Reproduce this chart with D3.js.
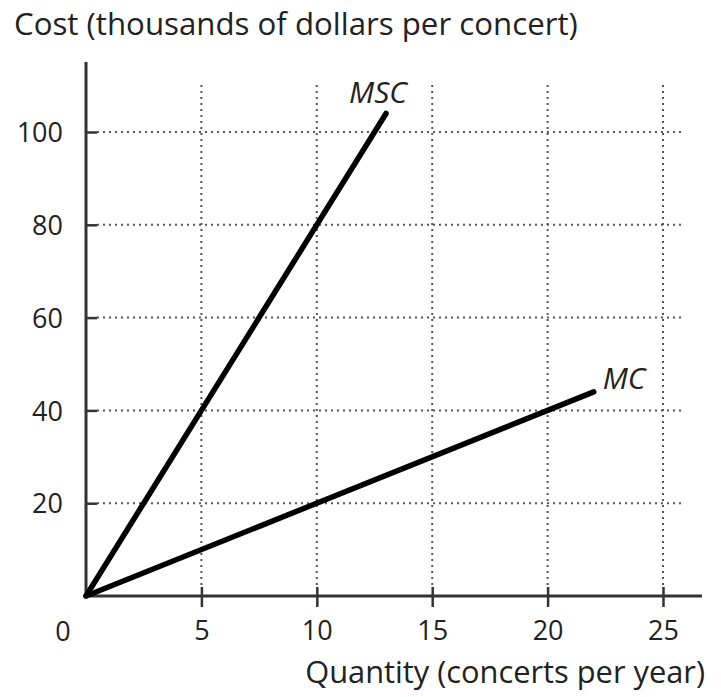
<!DOCTYPE html>
<html><head><meta charset="utf-8">
<script src="https://cdn.jsdelivr.net/npm/d3@7"></script>
<style>body{margin:0;background:#fff}svg{display:block}</style>
</head><body>
<script>
const xTicks = [5, 10, 15, 20, 25];
const yTicks = [20, 40, 60, 80, 100];
const mscPoints = [[0, 0], [13, 104]];
const mcPoints = [[0, 0], [22, 44]];
const curveLabels = [
  {text: "MSC", x: 13, y: 104},
  {text: "MC", x: 22, y: 44}
];
const yTitle = "Cost (thousands of dollars per concert)";
const xTitle = "Quantity (concerts per year)";

const W = 721, H = 697;
const font = "'Open Sans', Lato, sans-serif";
const ink = "#222";
const svg = d3.select("body").append("svg").attr("width", W).attr("height", H);

const x = d3.scaleLinear().domain([0, 25]).range([86, 663]);
const y = d3.scaleLinear().domain([0, 100]).range([596, 132]);

function fitText(sel, target) {
  const w = sel.node().getComputedTextLength();
  const fs = parseFloat(sel.attr("font-size"));
  sel.attr("font-size", fs * target / w);
}

// gridlines
const grid = svg.append("g").attr("stroke", "#555").attr("stroke-width", 2).attr("stroke-dasharray", "2,4");
grid.selectAll("line.h").data(yTicks).join("line")
  .attr("x1", 97).attr("x2", 685).attr("y1", d => y(d)).attr("y2", d => y(d));
grid.selectAll("line.v").data(xTicks).join("line")
  .attr("x1", d => x(d)).attr("x2", d => x(d)).attr("y1", 85).attr("y2", 586);

// axes
const yAxis = d3.axisLeft(y).tickValues(yTicks).tickSize(12).tickPadding(11).tickFormat(d3.format("d"));
const gy = svg.append("g").attr("transform", `translate(${x(0)},0)`).call(yAxis);
gy.select(".domain").remove();
gy.selectAll(".tick line").attr("x2", 11).attr("stroke", "#333").attr("stroke-width", 2.5);
gy.selectAll(".tick text").attr("font-family", font).attr("font-size", 27).attr("fill", ink).attr("dy", "0.36em");

const xAxis = d3.axisBottom(x).tickValues(xTicks).tickSize(11).tickPadding(14).tickFormat(d3.format("d"));
const gx = svg.append("g").attr("transform", `translate(0,${y(0)})`).call(xAxis);
gx.select(".domain").remove();
gx.selectAll(".tick line").attr("y1", -9).attr("stroke", "#333").attr("stroke-width", 2.5);
gx.selectAll(".tick text").attr("font-family", font).attr("font-size", 27).attr("fill", ink);

svg.append("line").attr("x1", x(0)).attr("x2", x(0)).attr("y1", 62).attr("y2", y(0) + 1.5)
  .attr("stroke", "#333").attr("stroke-width", 3);
svg.append("line").attr("x1", x(0) - 1.5).attr("x2", 702).attr("y1", y(0)).attr("y2", y(0))
  .attr("stroke", "#333").attr("stroke-width", 3);

svg.append("text").attr("x", 63).attr("y", 641).attr("text-anchor", "middle")
  .attr("font-family", font).attr("font-size", 27).attr("fill", ink).text("0");

// curves
const line = d3.line().x(d => x(d[0])).y(d => y(d[1]));
[mscPoints, mcPoints].forEach(p => {
  svg.append("path").attr("d", line(p)).attr("fill", "none").attr("stroke", "#000")
    .attr("stroke-width", 5.5).attr("stroke-linecap", "round");
});

svg.selectAll("text.cl").data(curveLabels).join("text")
  .attr("x", (d, i) => x(d.x) + (i === 0 ? -37 : 9))
  .attr("y", (d, i) => y(d.y) + (i === 0 ? -10 : -3))
  .attr("font-family", font).attr("font-style", "italic").attr("font-size", 30).attr("fill", ink)
  .text(d => d.text);

// titles
const t1 = svg.append("text").attr("x", 14).attr("y", 35).attr("font-family", font).attr("font-size", 26)
  .attr("fill", ink).text(yTitle);
fitText(t1, 564);
const t2 = svg.append("text").attr("x", 705).attr("y", 683).attr("text-anchor", "end").attr("font-family", font)
  .attr("font-size", 26).attr("fill", ink).text(xTitle);
fitText(t2, 400);
</script>
</body></html>
